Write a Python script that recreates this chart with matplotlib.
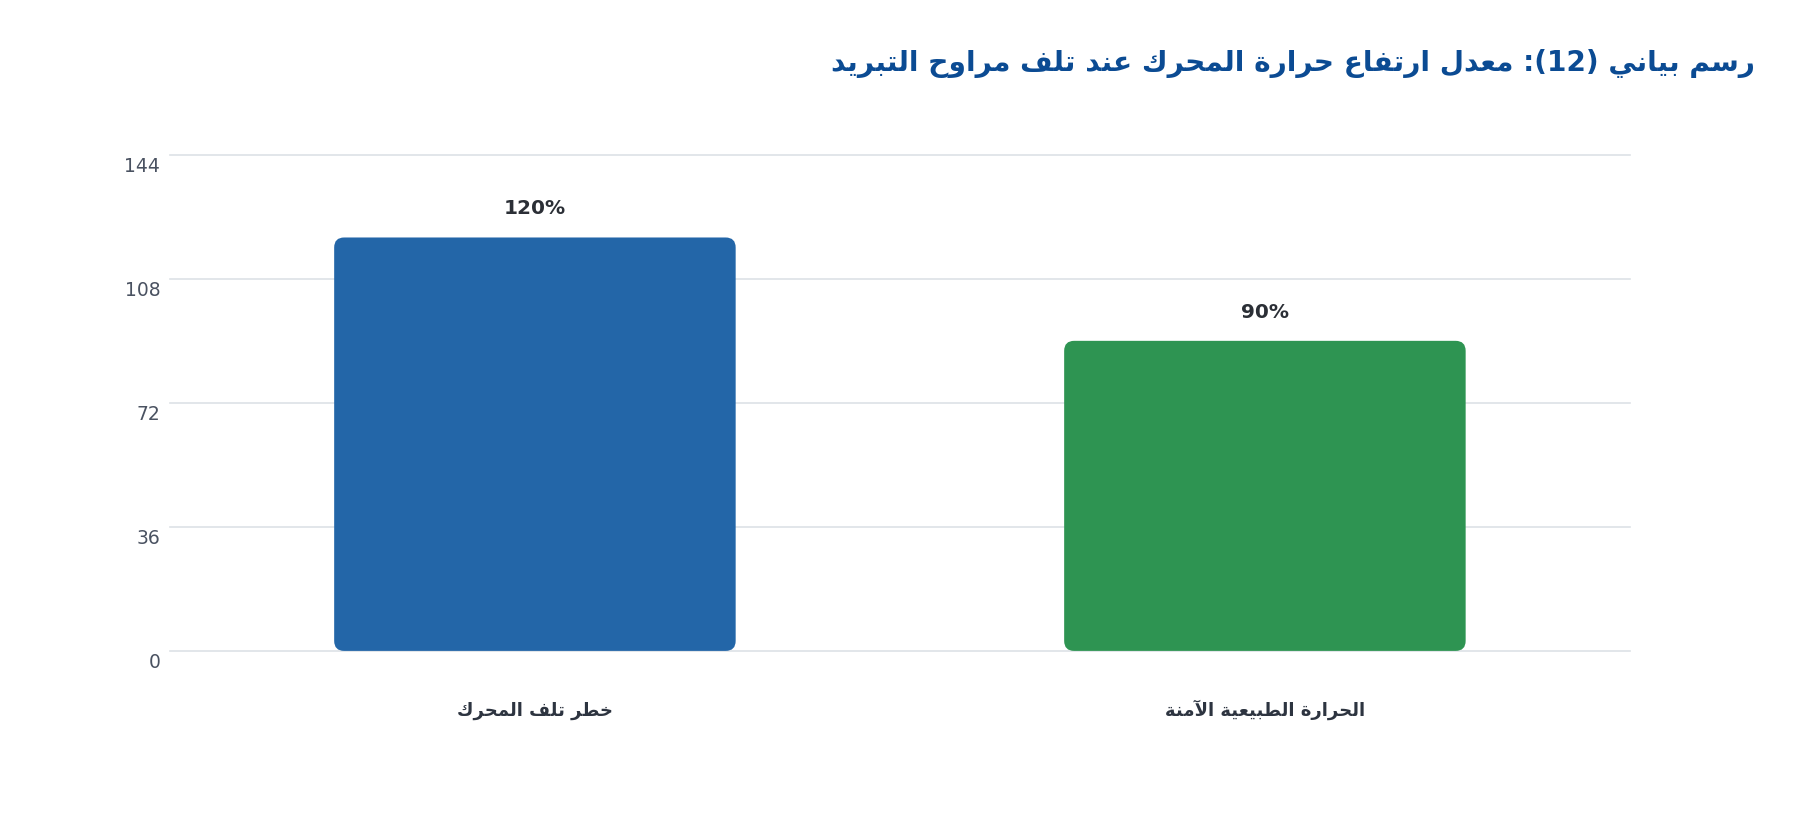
import re
import matplotlib
matplotlib.use("Agg")
import matplotlib.pyplot as plt
from matplotlib.patches import FancyBboxPatch
from matplotlib.transforms import ScaledTranslation

# ---------------- data ----------------
title_text = "رسم بياني (12): معدل ارتفاع حرارة المحرك عند تلف مراوح التبريد"
categories = ["خطر تلف المحرك", "الحرارة الطبيعية الآمنة"]
values = [120, 90]
value_labels = ["120%", "90%"]
bar_colors = ["#2366a8", "#2e9452"]
y_ticks = [0, 36, 72, 108, 144]

# ------------- Arabic shaping (contextual forms + visual order) -------------
FORMS = {
    'ا': ('\uFE8D', '\uFE8E'), 'آ': ('\uFE81', '\uFE82'), 'أ': ('\uFE83', '\uFE84'),
    'إ': ('\uFE87', '\uFE88'),
    'ب': ('\uFE8F', '\uFE90', '\uFE91', '\uFE92'), 'ة': ('\uFE93', '\uFE94'),
    'ت': ('\uFE95', '\uFE96', '\uFE97', '\uFE98'), 'ث': ('\uFE99', '\uFE9A', '\uFE9B', '\uFE9C'),
    'ج': ('\uFE9D', '\uFE9E', '\uFE9F', '\uFEA0'), 'ح': ('\uFEA1', '\uFEA2', '\uFEA3', '\uFEA4'),
    'خ': ('\uFEA5', '\uFEA6', '\uFEA7', '\uFEA8'), 'د': ('\uFEA9', '\uFEAA'),
    'ذ': ('\uFEAB', '\uFEAC'), 'ر': ('\uFEAD', '\uFEAE'), 'ز': ('\uFEAF', '\uFEB0'),
    'س': ('\uFEB1', '\uFEB2', '\uFEB3', '\uFEB4'), 'ش': ('\uFEB5', '\uFEB6', '\uFEB7', '\uFEB8'),
    'ص': ('\uFEB9', '\uFEBA', '\uFEBB', '\uFEBC'), 'ض': ('\uFEBD', '\uFEBE', '\uFEBF', '\uFEC0'),
    'ط': ('\uFEC1', '\uFEC2', '\uFEC3', '\uFEC4'), 'ظ': ('\uFEC5', '\uFEC6', '\uFEC7', '\uFEC8'),
    'ع': ('\uFEC9', '\uFECA', '\uFECB', '\uFECC'), 'غ': ('\uFECD', '\uFECE', '\uFECF', '\uFED0'),
    'ف': ('\uFED1', '\uFED2', '\uFED3', '\uFED4'), 'ق': ('\uFED5', '\uFED6', '\uFED7', '\uFED8'),
    'ك': ('\uFED9', '\uFEDA', '\uFEDB', '\uFEDC'), 'ل': ('\uFEDD', '\uFEDE', '\uFEDF', '\uFEE0'),
    'م': ('\uFEE1', '\uFEE2', '\uFEE3', '\uFEE4'), 'ن': ('\uFEE5', '\uFEE6', '\uFEE7', '\uFEE8'),
    'ه': ('\uFEE9', '\uFEEA', '\uFEEB', '\uFEEC'), 'و': ('\uFEED', '\uFEEE'),
    'ى': ('\uFEEF', '\uFEF0'), 'ي': ('\uFEF1', '\uFEF2', '\uFEF3', '\uFEF4'),
}
LAMALEF = {'ا': ('\uFEFB', '\uFEFC'), 'آ': ('\uFEF5', '\uFEF6'),
           'أ': ('\uFEF7', '\uFEF8'), 'إ': ('\uFEF9', '\uFEFA')}
MIRROR = {'(': ')', ')': '('}


def shape_ar(text):
    out, i, n, prev_joins = [], 0, len(text), False
    while i < n:
        c = text[i]
        if c == 'ل' and i + 1 < n and text[i + 1] in LAMALEF:
            iso, fin = LAMALEF[text[i + 1]]
            out.append(fin if prev_joins else iso)
            prev_joins = False
            i += 2
            continue
        if c in FORMS:
            f = FORMS[c]
            nxt = text[i + 1] if i + 1 < n else None
            joins_next = len(f) == 4 and nxt in FORMS
            if prev_joins and joins_next:
                out.append(f[3])
            elif prev_joins:
                out.append(f[1])
            elif joins_next:
                out.append(f[2])
            else:
                out.append(f[0])
            prev_joins = joins_next
        else:
            out.append(c)
            prev_joins = False
        i += 1
    vis = ''.join(MIRROR.get(ch, ch) for ch in reversed(out))
    return re.sub(r'[0-9A-Za-z%.]+', lambda m: m.group(0)[::-1], vis)


# ---------------- figure ----------------
plt.rcParams['font.family'] = ['DejaVu Sans']
fig = plt.figure(figsize=(18, 8.2), dpi=100)
fig.patch.set_facecolor("white")
ax = fig.add_axes([0.0944, 0.2050, 0.8111, 0.6050])

x = list(range(len(categories)))
bars = ax.bar(x, values, width=0.55, color=bar_colors, zorder=2)
ax.set_xlim(-0.5, len(categories) - 0.5)
ax.set_ylim(0, 144)
ax.set_yticks(y_ticks)
ax.set_yticklabels([str(t) for t in y_ticks])
ax.grid(axis='y', color='#dde1e6', linewidth=1.2, zorder=0)
for gl in ax.get_ygridlines():
    gl.set_clip_on(False)
ax.set_axisbelow(True)
for s in ax.spines.values():
    s.set_visible(False)
ax.tick_params(axis='y', length=0, pad=7, labelsize=13.5, labelcolor='#4a5261')
ax.tick_params(axis='x', length=0, pad=46)
ax.set_xticks(x)
ax.set_xticklabels([shape_ar(c) for c in categories], fontsize=13,
                   fontweight='bold', color='#2d3440', va='baseline')

# shift y tick labels slightly below their grid lines
for lab in ax.get_yticklabels():
    lab.set_transform(lab.get_transform() + ScaledTranslation(0, -9 / 100, fig.dpi_scale_trans))

# rounded bars built from the bar geometry
fig.canvas.draw()
bb = ax.get_window_extent()
x_per_px = (ax.get_xlim()[1] - ax.get_xlim()[0]) / bb.width
y_per_px = (ax.get_ylim()[1] - ax.get_ylim()[0]) / bb.height
aspect = y_per_px / x_per_px
radius_px = 10
for rect in bars:
    rect.set_visible(False)
    fp = FancyBboxPatch((rect.get_x(), rect.get_y()), rect.get_width(), rect.get_height(),
                        boxstyle=f"round,pad=0,rounding_size={radius_px * x_per_px}",
                        mutation_aspect=aspect, facecolor=rect.get_facecolor(),
                        edgecolor='none', zorder=2)
    ax.add_patch(fp)

# value labels
for xi, v, lab in zip(x, values, value_labels):
    ax.annotate(lab, (xi, v), xytext=(0, 17.5), textcoords='offset points',
                ha='center', va='baseline', fontsize=14.5, fontweight='bold',
                color='#2b2f36')

# title
fig.text(0.975, 0.9134, shape_ar(title_text), ha='right', va='baseline',
         fontsize=20.2, fontweight='bold', color='#0b4b93')

fig.savefig("out.png", dpi=100, facecolor='white')
